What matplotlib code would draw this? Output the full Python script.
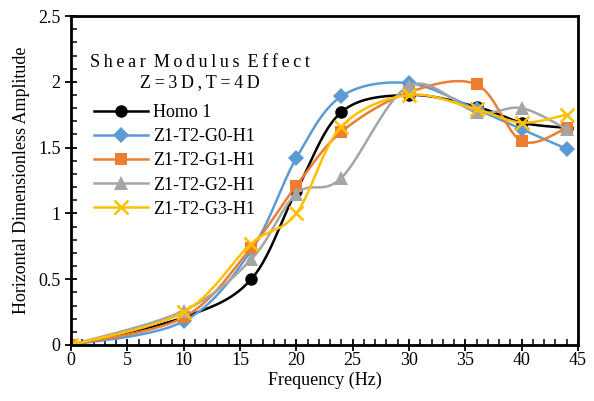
import numpy as np
import matplotlib
matplotlib.use("Agg")
import matplotlib.pyplot as plt
from matplotlib.lines import Line2D
from matplotlib.ticker import MultipleLocator

plt.rcParams['font.family'] = ['Liberation Serif', 'DejaVu Serif']
plt.rcParams['font.size'] = 13

# data
freq = [0, 10, 16, 20, 24, 30, 36, 40, 44]
homo1 = [0, 0.21, 0.50, 1.17, 1.77, 1.90, 1.81, 1.69, 1.65]
g0 = [0, 0.18, 0.72, 1.42, 1.89, 1.99, 1.79, 1.64, 1.49]
g1 = [0, 0.21, 0.74, 1.21, 1.62, 1.92, 1.98, 1.55, 1.65]
g2 = [0, 0.26, 0.65, 1.15, 1.27, 1.97, 1.77, 1.80, 1.64]
g3 = [0, 0.25, 0.77, 1.00, 1.66, 1.90, 1.79, 1.69, 1.75]

labels = ['Homo 1', 'Z1-T2-G0-H1', 'Z1-T2-G1-H1', 'Z1-T2-G2-H1', 'Z1-T2-G3-H1']
colors = ['black', '#5B9BD5', '#ED7D31', '#A5A5A5', '#FFC000']
markers = ['o', 'D', 's', '^', 'x']
msizes = [9, 8, 9, 10, 10]


def smooth(x, y, n=40):
    # excel-like smoothed line (catmull-rom as bezier)
    x = np.asarray(x, float)
    y = np.asarray(y, float)
    P = np.column_stack([x, y])
    out = []
    for i in range(len(P) - 1):
        p0 = P[i - 1] if i > 0 else P[i]
        p1 = P[i]
        p2 = P[i + 1]
        p3 = P[i + 2] if i + 2 < len(P) else P[i + 1]
        c1 = p1 + (p2 - p0) / 6
        c2 = p2 - (p3 - p1) / 6
        t = np.linspace(0, 1, n)[:, None]
        seg = ((1 - t) ** 3) * p1 + 3 * ((1 - t) ** 2) * t * c1 + 3 * (1 - t) * t ** 2 * c2 + t ** 3 * p2
        out.append(seg if i == 0 else seg[1:])
    out = np.vstack(out)
    return out[:, 0], out[:, 1]


fig = plt.figure(figsize=(5.94, 4.01), dpi=100)
ax = fig.add_axes([0.1195, 0.1397, 0.8535, 0.8203])

handles = []
for ys, lab, c, m, ms in zip([homo1, g0, g1, g2, g3], labels, colors, markers, msizes):
    sx, sy = smooth(freq, ys)
    ax.plot(sx, sy, color=c, lw=1.8)
    mew = 1.8 if m == 'x' else 0
    ax.plot(freq, ys, ls='none', marker=m, ms=ms, color=c, mew=mew)
    handles.append(Line2D([], [], color=c, lw=1.8, marker=m, ms=ms, mew=mew))

ax.set_xlim(0, 45)
ax.set_ylim(0, 2.5)
ax.xaxis.set_major_locator(MultipleLocator(5))
ax.xaxis.set_minor_locator(MultipleLocator(1))
ax.yaxis.set_minor_locator(MultipleLocator(0.1))
ax.set_yticks([0, 0.5, 1, 1.5, 2, 2.5])
ax.set_yticklabels(['0', '0.5', '1', '1.5', '2', '2.5'])
ax.tick_params(which='major', direction='inout', length=8, width=1.3, labelsize=13)
ax.tick_params(axis='x', which='major', pad=1)
ax.tick_params(which='minor', direction='in', length=4, width=1.1)
for s in ax.spines.values():
    s.set_linewidth(2)

ax.set_xlabel('Frequency (Hz)', fontsize=13, labelpad=2)
ax.set_ylabel('Horizontal Dimensionless Amplitude', fontsize=13, labelpad=6)

# legend heading, letter-spaced as in the original
ts = '\u2009'
title = ts.join('Shear') + ' ' + ts + ts.join('Modulus') + ' ' + ts + ts.join('Effect') + '\n' + ts.join('Z=3D,T=4D')
ax.text(0.254, 0.828, title, transform=ax.transAxes, ha='center', va='center',
        multialignment='center', fontsize=13, linespacing=1.2)

leg = ax.legend(handles, labels, loc='upper left', bbox_to_anchor=(0.045, 0.733),
                frameon=False, handlelength=3, handletextpad=0.3, labelspacing=0.4,
                fontsize=13, borderaxespad=0, borderpad=0)

fig.savefig('out.png', dpi=100)
